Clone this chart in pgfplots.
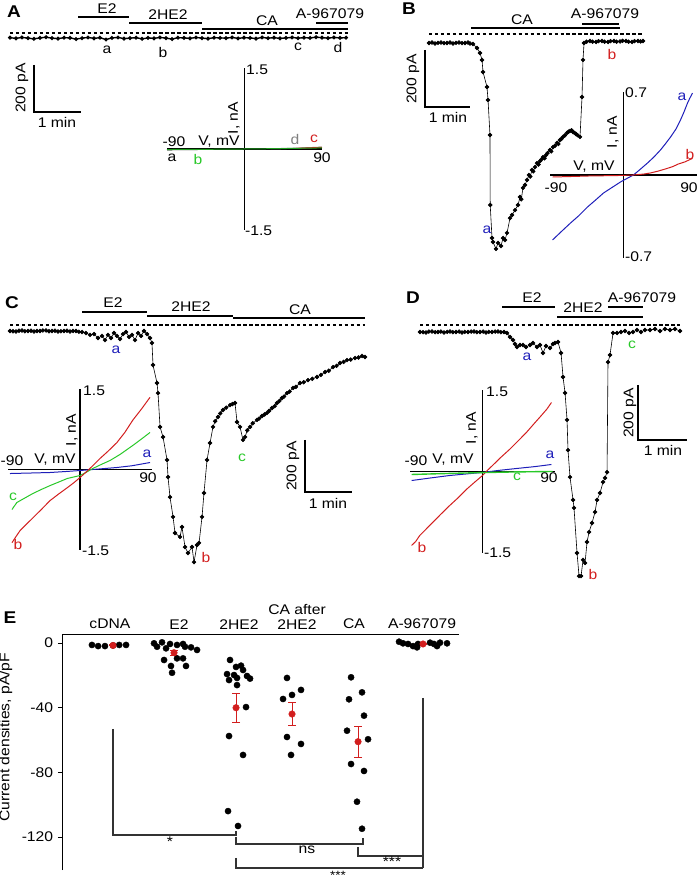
\documentclass[border=0pt]{standalone}
\usepackage{pgfplots}
\pgfplotsset{compat=1.18}
\usepackage{fontspec}
\setmainfont{Liberation Sans}[FakeStretch=1.12]
\definecolor{cblue}{RGB}{30,30,185}
\definecolor{cred}{RGB}{210,30,30}
\definecolor{cgreen}{RGB}{40,200,40}
\pgfplotsset{
  /pgf/number format/assume math mode=true,
  trace/.style={scale only axis, axis lines=none, clip=false, anchor=south west},
  tr/.style={black, line width=0.6pt, mark=*, mark size=1.9pt, mark options={solid}},
  iv/.style={scale only axis, axis lines=middle, axis line style={-, line width=1.1pt, black},
    xtick=\empty, ytick=\empty, xmin=-90, xmax=90, clip=false, anchor=south west},
  ivc/.style={line width=1pt, no marks},
}
\tikzset{lab/.style={inner sep=0pt, anchor=center},
  bar/.style={line width=1.1pt, black},
  dsh/.style={line width=1.1pt, dash pattern=on 3.5pt off 2.5pt},
  pl/.style={font=\bfseries\fontsize{17bp}{18bp}\selectfont, inner sep=0pt}}
\begin{document}
\fontsize{14bp}{16bp}\selectfont
\begin{tikzpicture}[font=\fontsize{14bp}{16bp}\selectfont]
\path[use as bounding box] (0,0) rectangle (700bp,885bp);

% ---------- Panel A trace ----------
\begin{axis}[trace, at={(10bp,825bp)}, width=338bp, height=35bp, xmin=0, xmax=431.6, ymin=-115, ymax=34]
\draw[dsh] (0,0) -- (431.6,0);
\addplot[tr, line width=1.4pt, mark size=1.2pt] coordinates {
(0,-20)(7.7,-23)(15.3,-19)(23,-22)(30.6,-25)(38.3,-21)(46,-18)(53.6,-22)(61.3,-24)(69,-20)
(76.6,-21)(84.3,-26)(92,-22)(99.6,-19)(107.3,-23)(114.9,-20)(122.6,-28)(130.2,-21)(137.9,-19)(145.6,-24)
(153.2,-22)(160.9,-20)(168.6,-25)(176.2,-21)(183.9,-23)(191.5,-19)(199.2,-22)(206.9,-26)(214.5,-20)(222.2,-21)
(229.9,-23)(237.5,-19)(245.2,-22)(252.8,-24)(260.5,-20)(268.2,-21)(275.8,-22)(283.5,-19)(291.2,-23)(298.8,-20)
(306.5,-21)(314.1,-24)(321.8,-19)(329.5,-22)(337.1,-20)(344.8,-23)(352.4,-21)(360.1,-19)(367.8,-22)(375.4,-20)
(383.1,-21)(390.8,-18)(398.4,-20)(406.1,-22)(413.7,-19)(421.4,-21)(429.1,-20)};
\end{axis}

% ---------- Panel B trace ----------
\begin{axis}[trace, at={(429bp,625bp)}, width=214bp, height=235bp, xmin=0, xmax=285.3, ymin=-793, ymax=31.6]
\draw[dsh] (0,0) -- (285.3,0);
\addplot[tr] coordinates {
(0,-31.6)(4,-30)(8,-33.3)(12,-31)(16,-29.8)(20,-32)(24,-31.6)(28,-30)(32,-33.3)(36,-31)(40,-29.8)(44,-32)(48,-31.6)(52,-30)(54.7,-33.3)
(58.7,-35.1)(64,-49.1)(68,-66.7)(70.7,-91.2)(72,-133.3)(77.3,-186)(78.7,-231.6)(81.3,-354.4)(81.6,-600)
(84,-716)(85.3,-730)(89.3,-754)(92,-733)(96,-744)(98.7,-716)(101.3,-723)(104,-698)(108,-646)(110.7,-635)
(114.7,-618)(118.7,-600)(121.3,-572)(123,-580)(125.3,-540)(128,-530)(130.7,-512)(133.3,-495)(135,-500)(137.3,-477)
(139,-482)(141.3,-467)(144,-453)(146,-458)(148,-446)(150,-440)(152,-432)(154,-436)(156,-425)(158,-418)(161.3,-407)
(163,-412)(165.3,-397)(168,-392)(170.7,-382)(172.5,-386)(174.7,-372)(176.5,-368)(178.7,-361)(181,-356)(184,-347)
(186,-343)(188,-340)(190,-338)(192,-344)(194,-347)(196,-351)(198,-355)(201.3,-361)(204,-221)(205.3,-91)(206.7,-31.6)
(210,-27)(214.7,-24.6)(218,-27)(222.7,-28)(226,-25)(230.7,-24.6)(234,-27)(238.7,-28)(242,-25)(246.7,-24.6)(250,-27)
(254.7,-26.3)(258,-24)(262.7,-24.6)(266,-27)(270.7,-28)(274,-25)(278.7,-24.6)(282,-26)(285.3,-24.6)};
\end{axis}

% ---------- Panel C trace ----------
\begin{axis}[trace, at={(10bp,315bp)}, width=355bp, height=255bp, xmin=0, xmax=453.3, ymin=-942.3, ymax=38.5]
\draw[dsh] (0,0) -- (453.3,0);
\addplot[tr] coordinates {
(0,-23)(3.8,-24)(7.7,-25)(11.5,-22)(15.3,-21)(19,-24)(23,-23)(26.8,-22)(30.6,-25)(34.5,-23)(38.3,-23)(42,-21)(46,-21)(49.8,-24)
(53.6,-23)(57.5,-22)(61.3,-25)(65,-24)(69,-23)(72.8,-22)(76.6,-25)(80.5,-23)(84.3,-23)(88,-26)(92,-27)(97,-31)(102.2,-38)(107.3,-35)
(112.4,-50)(117.5,-42)(121.3,-58)(125.1,-38)(129,-50)(132.8,-31)(136.6,-42)(140.5,-54)(144.3,-35)(148.1,-27)
(152,-46)(155.8,-38)(159.6,-58)(163.5,-31)(167.3,-42)(171.1,-23)(175,-35)(178.8,-50)(181.3,-69)(182.6,-154)
(187.7,-223)(189,-262)(191.6,-392)(195.4,-431)(200.5,-519)(201.8,-585)(204.3,-662)(208.2,-738)(210.7,-800)
(217.1,-815)(219.6,-777)(223.5,-854)(227.3,-877)(232.4,-854)(235,-912)(238.8,-846)(241.4,-838)(245.2,-738)
(247.7,-646)(251.6,-519)(255.4,-454)(259.2,-392)(262,-370)(265.6,-354)(268.5,-340)(272,-327)(276,-318)(281,-308)(284,-304)(287.3,-300)
(289.9,-373)(293.7,-392)(297.5,-442)(300.1,-431)(303,-405)(306.5,-392)(310,-378)(315.4,-365)(318,-360)(321.8,-350)(325,-344)
(328.2,-338)(331,-330)(334.6,-319)(338,-312)(341,-300)(344,-292)(347.3,-281)(350,-275)(353.7,-262)(357,-256)(361.4,-242)
(365,-238)(370.3,-223)(375,-220)(380.5,-212)(386,-207)(392,-200)(397,-192)(402.3,-181)(407,-176)(412.5,-162)(417,-157)
(421.4,-146)(426,-142)(430.3,-135)(435,-133)(440.6,-127)(445,-125)(449.5,-119)(453.3,-123)};
\end{axis}

% ---------- Panel D trace ----------
\begin{axis}[trace, at={(420bp,295bp)}, width=260bp, height=275bp, xmin=0, xmax=325, ymin=-963.5, ymax=36.4]
\draw[dsh] (0,0) -- (325,0);
\addplot[tr] coordinates {
(0,-25.5)(3.8,-26)(7.5,-27.3)(11,-24)(15,-23.6)(19,-26)(22.5,-25.5)(26,-24)(30,-27.3)(34,-25)(37.5,-23.6)(41,-26)(45,-25.5)
(49,-24)(52.5,-27.3)(56,-25)(60,-25.5)(64,-24)(67.5,-23.6)(71,-26)(75,-25.5)(79,-24)(82.5,-27.3)(86,-25)(90,-25.5)(94,-24)
(97.5,-23.6)(101,-26)(105,-25.5)(108.8,-29.1)(112.5,-43.6)(116.3,-54.5)(118.8,-69.1)(121.3,-80)(125,-72.7)(128.8,-72.7)
(132.5,-80)(137.5,-72.7)(141.3,-65.5)(146.3,-80)(150,-72.7)(153.8,-101.8)(157.5,-76.4)(162.5,-83.6)(166.3,-69.1)
(168.8,-65.5)(172.5,-61.8)(176.3,-101.8)(178.8,-189)(181.3,-247)(183.8,-345)(185,-455)(187.5,-553)(191.3,-636)
(192.5,-665)(196.3,-829)(198.8,-913)(201.3,-913)(203.8,-854)(206.3,-865)(208.8,-789)(211.3,-753)(215,-720)
(218.8,-680)(221.3,-636)(225,-611)(228.8,-571)(231.3,-556)(233.8,-535)(235,-135)(237.5,-109)(241.3,-29)(246.3,-29)
(251.3,-25.5)(256.3,-21.8)(261.3,-29)(266.3,-25.5)(271.3,-18.2)(276.3,-25.5)(281.3,-18.2)(287.5,-18.2)(293.8,-14.5)
(300,-21.8)(306.3,-14.5)(312.5,-18.2)(318.8,-14.5)(325,-21.8)};
\end{axis}

% ---------- IV insets ----------
\begin{axis}[iv, at={(167bp,655bp)}, width=155bp, height=162bp, ymin=-1.5, ymax=1.5]
\addplot[ivc, black] coordinates {(-90,-0.015)(-45,-0.008)(0,0)(45,0.006)(90,0.012)};
\addplot[ivc, gray] coordinates {(30,0.005)(60,0.015)(90,0.035)};
\addplot[ivc, cred] coordinates {(60,0.012)(90,0.03)};
\addplot[ivc, cgreen!80!black] coordinates {(-90,-0.01)(-45,-0.006)(0,0)(45,0.008)(90,0.02)};
\end{axis}

\begin{axis}[iv, at={(550bp,627bp)}, width=147bp, height=166bp, ymin=-0.7, ymax=0.7]
\addplot[ivc, cblue] coordinates {(-86.9,-0.548)(-75,-0.47)(-64.9,-0.405)(-55,-0.345)(-44.1,-0.270)(-34,-0.21)(-24.5,-0.152)(-14,-0.105)(-3.7,-0.059)(4,-0.03)(12.2,0)(20,0.045)(29.4,0.101)(37,0.15)(45.3,0.211)(51,0.26)(57.6,0.320)(64,0.385)(69.8,0.464)(74,0.53)(78.4,0.607)(81,0.645)(84.5,0.691)};
\addplot[ivc, cred] coordinates {(-86.9,-0.017)(-60,-0.012)(-40.4,-0.008)(-20,-0.006)(-3.7,-0.004)(12.2,0)(25,0.008)(33,0.017)(42,0.032)(51.4,0.051)(60,0.07)(67.3,0.093)(75,0.11)(84.5,0.14)};
\end{axis}

\begin{axis}[iv, at={(8bp,335bp)}, width=144bp, height=161bp, ymin=-1.5, ymax=1.5]
\addplot[ivc, cblue] coordinates {(-87.5,-0.075)(-60,-0.065)(-37.5,-0.056)(-15,-0.035)(0,-0.019)(20,0.005)(46,0.037)(65,0.07)(87.5,0.13)};
\addplot[ivc, cgreen] coordinates {(-85,-0.747)(-83,-0.70)(-81,-0.66)(-79,-0.616)(-70,-0.54)(-59,-0.448)(-48,-0.37)(-37.5,-0.30)(-26,-0.23)(-16,-0.168)(-8,-0.14)(0,-0.112)(8,-0.05)(16,0.019)(26,0.09)(37.5,0.168)(50,0.28)(66,0.448)(77,0.57)(87.5,0.69)};
\addplot[ivc, cred] coordinates {(-85,-1.364)(-80,-1.25)(-75,-1.14)(-67,-1.02)(-58.8,-0.90)(-48,-0.74)(-37.5,-0.58)(-27,-0.46)(-16,-0.34)(-8,-0.25)(0,-0.15)(6,-0.07)(12.5,0.02)(18,0.1)(25,0.205)(35,0.34)(46,0.50)(56,0.69)(66,0.92)(77,1.13)(87.5,1.345)};
\end{axis}

\begin{axis}[iv, at={(410bp,332bp)}, width=145bp, height=163bp, ymin=-1.5, ymax=1.5]
\addplot[ivc, cblue] coordinates {(-88,-0.166)(-65,-0.12)(-41,-0.074)(-20,-0.045)(0,-0.018)(20,0.02)(42,0.055)(65,0.09)(85.6,0.129)};
\addplot[ivc, cred] coordinates {(-88,-1.36)(-83,-1.29)(-78,-1.18)(-70,-1.06)(-62,-0.94)(-52,-0.79)(-41,-0.63)(-30,-0.48)(-20,-0.33)(-10,-0.2)(0,-0.074)(6,0.02)(12.4,0.11)(22,0.25)(33.5,0.405)(44,0.56)(54.6,0.72)(64,0.88)(73,1.03)(80,1.15)(85.6,1.27)};
\addplot[ivc, cgreen, line width=1.4pt] coordinates {(-88,-0.055)(-40,-0.035)(0,-0.02)(40,-0.008)(87,0.0)};
\end{axis}

% ---------- Panel E ----------
\begin{axis}[scale only axis, anchor=south west, at={(62bp,15bp)}, width=397bp, height=235bp,
  xmin=-0.823, xmax=5.58, ymin=-140.3, ymax=4.95, clip=false,
  axis x line=top, axis y line=left, axis line style={-, line width=1pt, black},
  xtick={-0.05,1.065,2.03,2.968,3.887,4.984},
  xticklabels={cDNA,E2,2HE2,{CA after\\2HE2},CA,A-967079},
  xticklabel style={align=center, anchor=south, yshift=-3bp},
  x tick style={draw=none},
  ytick={0,-40,-80,-120}, yticklabels={0,-40,-80,-120},
  y tick style={line width=1pt, black}, tick align=outside, major tick length=4bp,
  ylabel={Current densities, pA/pF},
  ylabel style={at={(ticklabel cs:0.565)}},
  every tick label/.append style={font=\fontsize{14bp}{15bp}\selectfont},
]
\addplot[only marks, mark=*, mark size=3.1pt, black] coordinates {
(-0.34,-1.2)(-0.24,-1.9)(-0.13,-1.9)(0,-1.5)(0.10,-1.2)(0.21,-1.2)
(0.661,-0.2)(0.710,-2.3)(0.790,0.4)(0.855,-3.3)(0.919,-0.6)(1.032,-1.2)(1.129,-0.6)(1.161,-2.3)(1.258,-2.7)(1.355,-4.3)
(0.823,-10.5)(0.935,-14.2)(1.032,-9.5)(1.129,-9.5)(1.177,-14.2)(0.952,-18.4)
(1.887,-10.5)(1.839,-19.2)(1.871,-22.9)(1.952,-19.8)(2.0,-21.6)(1.984,-14.8)(2.097,-16.7)(2.161,-20.4)(2.0,-26)
(2.145,-39.6)(1.871,-57.5)(2.097,-69.2)(1.855,-103.9)(2.016,-113.1)(2.21,-22)(2.065,-14)
(2.806,-21.6)(3.032,-29)(2.742,-34.6)(2.887,-32.1)(2.806,-58.1)(3.032,-62.4)(2.871,-69.2)
(3.839,-21.2)(4.016,-30.5)(3.806,-34.8)(4.048,-44.9)(3.774,-54.2)(4.113,-59.5)(3.839,-74.8)(4.048,-79.1)(3.935,-98.1)(4.016,-114.8)
(4.613,0.8)(4.677,-0.2)(4.758,-0.6)(4.839,-1.9)(4.903,-2.7)(4.919,-0.6)(5.113,0.2)(5.177,-0.6)(5.226,-1.9)(5.274,0.2)(5.387,-0.2)};
\addplot[only marks, mark=*, mark size=3.3pt, cred,
  error bars/.cd, y dir=both, y explicit,
  error bar style={line width=1pt, cred},
  error mark options={rotate=90, mark size=4pt, line width=1pt, cred}] coordinates {
(0,-1.5) +- (0,0.3)
(0.984,-6.0) +- (0,1.5)
(1.984,-40) +- (0,9)
(2.887,-43.9) +- (0,7.1)
(3.952,-61) +- (0,9.5)
(5.0,-0.6) +- (0,0.4)};
\end{axis}

% ---------- annotations (pixel frame, y downward) ----------
\begin{scope}[x=1bp, y=-1bp, yshift=885bp]
% Panel A
\node[pl] at (14,12) {A};
\draw[bar] (78,17) -- (129,17);  \node[lab] at (107,9) {E2};
\draw[bar] (129,23) -- (202,23); \node[lab] at (168,15) {2HE2};
\draw[bar] (202,29) -- (348,29); \node[lab] at (267,21) {CA};
\draw[bar] (316,23) -- (348,23); \node[lab] at (330,14) {A-967079};
\node[lab] at (107,50) {a}; \node[lab] at (163,53) {b};
\node[lab] at (298,47) {c}; \node[lab] at (338,48) {d};
\draw[bar] (34,65) -- (34,112) -- (81,112);
\node[lab, rotate=90] at (22,88) {200 pA};
\node[lab] at (57,122) {1 min};
\node[lab, anchor=west] at (246,70) {1.5};
\node[lab, anchor=west] at (245,231) {-1.5};
\node[lab] at (174,142) {-90};
\node[lab] at (322,158) {90};
\node[lab] at (219,142) {V, mV};
\node[lab, rotate=90] at (234,118) {I, nA};
\node[lab] at (172,158) {a};
\node[lab, text=cgreen] at (198,160) {b};
\node[lab, text=gray] at (295,140) {d};
\node[lab, text=cred] at (314,139) {c};
% Panel B
\node[pl] at (409,9) {B};
\draw[bar] (471,28) -- (620,28); \node[lab] at (522,20) {CA};
\draw[bar] (582,24) -- (619,24); \node[lab] at (605,14) {A-967079};
\node[lab, text=cred] at (612,55) {b};
\node[lab, text=cblue] at (487,230) {a};
\draw[bar] (425,50) -- (425,107) -- (470,107);
\node[lab, rotate=90] at (413,79) {200 pA};
\node[lab] at (448,117) {1 min};
\node[lab, anchor=west] at (625,93) {0.7};
\node[lab, anchor=west] at (625,257) {-0.7};
\node[lab] at (556,188) {-90};
\node[lab] at (689,188) {90};
\node[lab] at (594,167) {V, mV};
\node[lab, rotate=90] at (613,132) {I, nA};
\node[lab, text=cblue] at (682,97) {a};
\node[lab, text=cred] at (690,155) {b};
% Panel C
\node[pl] at (12,303) {C};
\draw[bar] (82,312) -- (147,312);  \node[lab] at (113,303) {E2};
\draw[bar] (147,316) -- (233,316); \node[lab] at (191,307) {2HE2};
\draw[bar] (233,318) -- (365,318); \node[lab] at (300,310) {CA};
\node[lab, text=cblue] at (116,350) {a};
\node[lab, text=cred] at (206,558) {b};
\node[lab, text=cgreen] at (242,458) {c};
\draw[bar] (305,440) -- (305,492) -- (352,492);
\node[lab, rotate=90] at (293,466) {200 pA};
\node[lab] at (328,503) {1 min};
\node[lab, anchor=west] at (83,391) {1.5};
\node[lab, anchor=west] at (82,551) {-1.5};
\node[lab, anchor=west] at (0.5,461) {-90};
\node[lab] at (55,460) {V, mV};
\node[lab] at (148,478) {90};
\node[lab, rotate=90] at (72,430) {I, nA};
\node[lab, text=cblue] at (147,454) {a};
\node[lab, text=cred] at (18,545) {b};
\node[lab, text=cgreen] at (13,497) {c};
% Panel D
\node[pl] at (413,298) {D};
\draw[bar] (502,307) -- (555,307); \node[lab] at (532,298) {E2};
\draw[bar] (557,317) -- (643,317); \node[lab] at (583,308) {2HE2};
\draw[bar] (608,307) -- (643,307); \node[lab] at (642,298) {A-967079};
\node[lab, text=cblue] at (527,357) {a};
\node[lab, text=cred] at (593,575) {b};
\node[lab, text=cgreen] at (632,345) {c};
\draw[bar] (638,385) -- (638,440) -- (687,440);
\node[lab, rotate=90] at (630,413) {200 pA};
\node[lab] at (663,450) {1 min};
\node[lab, anchor=west] at (486,392) {1.5};
\node[lab, anchor=west] at (484,553) {-1.5};
\node[lab] at (416,461) {-90};
\node[lab] at (453,460) {V, mV};
\node[lab] at (549,478) {90};
\node[lab, rotate=90] at (472,428) {I, nA};
\node[lab, text=cblue] at (550,455) {a};
\node[lab, text=cred] at (422,548) {b};
\node[lab, text=cgreen] at (517,477) {c};
% Panel E
\node[pl] at (10,618) {E};
\draw[line width=1.1pt, black!80] (113,729) -- (113,835) -- (236,835) -- (236,831);
\node[lab] at (170,842) {*};
\draw[line width=1.1pt, black!80] (236,837) -- (236,844) -- (363,844) -- (363,838);
\node[lab] at (307,850) {ns};
\draw[line width=1.1pt, black!80] (358,847) -- (358,856) -- (423,856);
\draw[line width=1.1pt, black!80] (423,698) -- (423,868);
\draw[line width=1.1pt, black!80] (236,858) -- (236,868) -- (423,868);
\node[lab] at (392,862) {***};
\node[lab, anchor=base, font=\fontsize{12bp}{13bp}\selectfont] at (338,879.5) {***};
\end{scope}
\end{tikzpicture}
\end{document}
